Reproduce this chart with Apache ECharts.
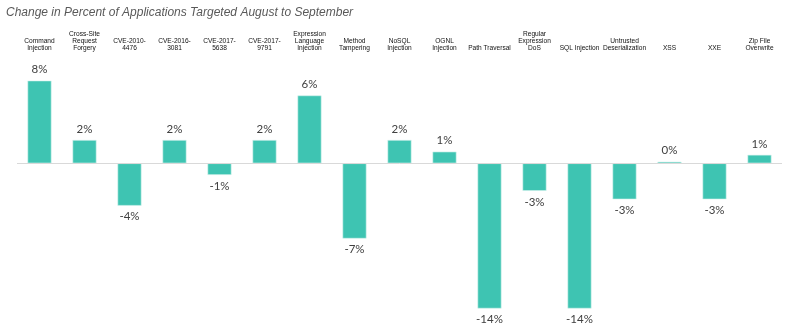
<!DOCTYPE html>
<html>
<head>
<meta charset="utf-8">
<script src="https://cdn.jsdelivr.net/npm/echarts@6/dist/echarts.min.js"></script>
<style>html,body{margin:0;padding:0;background:#fff}#c{width:790px;height:330px}</style>
</head>
<body>
<div id="c"></div>
<script>
var title = 'Change in Percent of Applications Targeted August to September';
var categories = ['Command\nInjection','Cross-Site\nRequest\nForgery','CVE-2010-\n4476','CVE-2016-\n3081','CVE-2017-\n5638','CVE-2017-\n9791','Expression\nLanguage\nInjection','Method\nTampering','NoSQL\nInjection','OGNL\nInjection','Path Traversal','Regular\nExpression\nDoS','SQL Injection','Untrusted\nDeserialization','XSS','XXE','Zip File\nOverwrite'];
var changes = [7.8, 2.2, -4.0, 2.2, -1.1, 2.2, 6.4, -7.1, 2.2, 1.1, -13.7, -2.6, -13.7, -3.4, 0.15, -3.4, 0.8];

var dataItems = changes.map(function (v) {
  return v < 0 ? {value: v, label: {position: 'bottom'}} : {value: v};
});

var chart = echarts.init(document.getElementById('c'), null, {renderer: 'canvas'});
chart.setOption({
  animation: false,
  title: {
    text: title, left: 6, top: 7, padding: 0,
    textStyle: {fontFamily: 'Liberation Sans', fontStyle: 'italic', fontWeight: 'normal', fontSize: 12, color: '#595959'}
  },
  grid: {left: 17, right: 8, top: 57.3, bottom: 18.3, containLabel: false},
  xAxis: {
    type: 'category', position: 'top', data: categories,
    axisLine: {show: false, onZero: false}, axisTick: {show: false},
    axisLabel: {interval: 0, margin: 5, fontFamily: 'Liberation Sans', fontSize: 6.6, lineHeight: 7.4, color: '#111'}
  },
  yAxis: {type: 'value', min: -14, max: 10, show: false, splitLine: {show: false}},
  series: [{
    type: 'bar', data: dataItems, barWidth: 24,
    itemStyle: {color: '#3EC4B2', borderColor: '#D8F3EE', borderWidth: 0.6},
    label: {
      show: true, distance: 5, fontFamily: 'Lato', fontSize: 11.5, color: '#404040',
      position: 'top',
      formatter: function (p) { return Math.round(p.value) + '%'; }
    },
    markLine: {
      silent: true, symbol: 'none', label: {show: false},
      lineStyle: {color: '#D9D9D9', type: 'solid', width: 1},
      data: [{yAxis: 0}]
    }
  }]
});
</script>
</body>
</html>
